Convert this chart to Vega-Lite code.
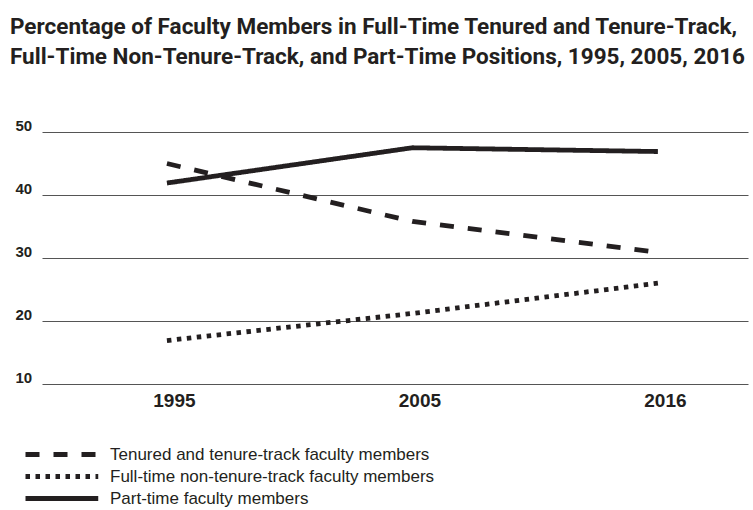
{
  "$schema": "https://vega.github.io/schema/vega-lite/v6.json",
  "width": 706,
  "height": 252,
  "autosize": {"type": "none"},
  "padding": {"left": 42, "top": 132, "right": 5, "bottom": 126},
  "background": "white",
  "config": {"view": {"stroke": null}},
  "title": {
    "text": ["Percentage of Faculty Members in Full-Time Tenured and Tenure-Track,", "Full-Time Non-Tenure-Track, and Part-Time Positions, 1995, 2005, 2016"],
    "anchor": "start",
    "frame": "group",
    "font": "Roboto",
    "fontSize": 22.5,
    "fontWeight": "bold",
    "color": "#231f20",
    "lineHeight": 30,
    "dx": -32,
    "offset": 50
  },
  "data": {
    "values": [
      {"year": "1995", "type": "Tenured and tenure-track faculty members", "pct": 45.0},
      {"year": "2005", "type": "Tenured and tenure-track faculty members", "pct": 35.8},
      {"year": "2016", "type": "Tenured and tenure-track faculty members", "pct": 30.9},
      {"year": "1995", "type": "Full-time non-tenure-track faculty members", "pct": 16.9},
      {"year": "2005", "type": "Full-time non-tenure-track faculty members", "pct": 21.2},
      {"year": "2016", "type": "Full-time non-tenure-track faculty members", "pct": 26.0},
      {"year": "1995", "type": "Part-time faculty members", "pct": 41.9},
      {"year": "2005", "type": "Part-time faculty members", "pct": 47.5},
      {"year": "2016", "type": "Part-time faculty members", "pct": 46.9}
    ]
  },
  "mark": {"type": "line", "strokeWidth": 4.8, "strokeCap": "butt", "color": "#231f20"},
  "encoding": {
    "x": {
      "field": "year",
      "type": "ordinal",
      "scale": {"type": "point", "padding": 0.438, "align": 0.581},
      "axis": {
        "title": null,
        "labelAngle": 0,
        "domain": false,
        "ticks": false,
        "grid": false,
        "labelFont": "Liberation Sans",
        "labelFontWeight": "bold",
        "labelFontSize": 19,
        "labelColor": "#231f20",
        "labelPadding": 7,
        "labelOffset": 7
      }
    },
    "y": {
      "field": "pct",
      "type": "quantitative",
      "scale": {"domain": [10, 50], "nice": false, "zero": false},
      "axis": {
        "title": null,
        "values": [10, 20, 30, 40, 50],
        "domain": false,
        "ticks": false,
        "labelAlign": "left",
        "labelBaseline": "alphabetic",
        "labelOffset": -2,
        "labelPadding": 27,
        "labelFont": "Liberation Sans",
        "labelFontWeight": "bold",
        "labelFontSize": 15,
        "labelColor": "#231f20",
        "gridColor": "#555555",
        "gridWidth": 1,
        "gridOpacity": 1
      }
    },
    "strokeDash": {
      "field": "type",
      "type": "nominal",
      "scale": {
        "domain": ["Tenured and tenure-track faculty members", "Full-time non-tenure-track faculty members", "Part-time faculty members"],
        "range": [[14, 14], [4.5, 5.5], [1, 0]]
      },
      "legend": {
        "orient": "none",
        "legendX": -25,
        "legendY": 314,
        "title": null,
        "symbolType": "M0,0H14",
        "symbolSize": 108,
        "symbolStrokeWidth": 4.8,
        "symbolStrokeColor": "#231f20",
        "labelFont": "Liberation Sans",
        "labelFontSize": 17,
        "labelColor": "#231f20",
        "labelOffset": 76,
        "labelLimit": 500,
        "rowPadding": 1
      }
    }
  }
}
